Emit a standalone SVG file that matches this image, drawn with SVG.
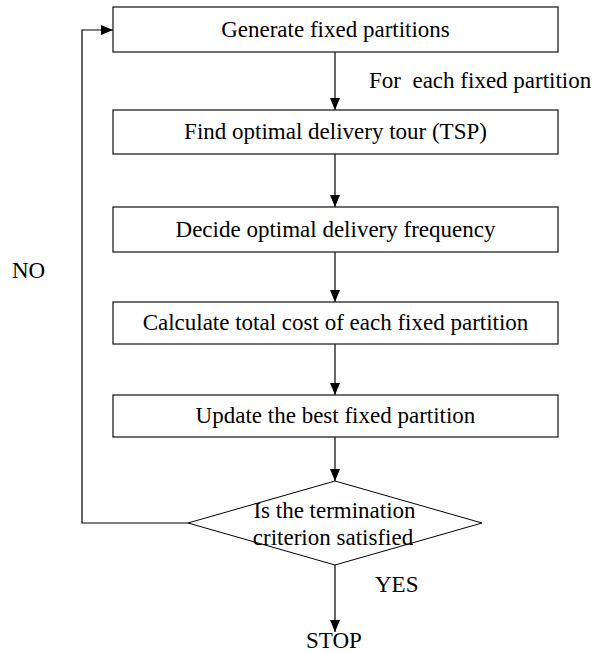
<svg xmlns="http://www.w3.org/2000/svg" width="598" height="653" viewBox="0 0 598 653">
<defs>
<marker id="arr" markerWidth="12" markerHeight="10" refX="12" refY="5" orient="auto" markerUnits="userSpaceOnUse">
<path d="M0,0 L12,5 L0,10 Z" fill="#000"/>
</marker>
<style>
.box{fill:#fff;stroke:#222;stroke-width:1.3}
.t{font-family:"Liberation Serif","Times New Roman",serif;font-size:23px;fill:#000}
.c{text-anchor:middle}
.ln{fill:none;stroke:#000;stroke-width:1.2}
</style>
</defs>
<rect width="598" height="653" fill="#fff"/>
<g id="connectors">
<line class="ln" x1="335" y1="52" x2="335" y2="110" marker-end="url(#arr)"/>
<line class="ln" x1="335" y1="154" x2="335" y2="207" marker-end="url(#arr)"/>
<line class="ln" x1="335" y1="252" x2="335" y2="302" marker-end="url(#arr)"/>
<line class="ln" x1="335" y1="344" x2="335" y2="395" marker-end="url(#arr)"/>
<line class="ln" x1="335" y1="437" x2="335" y2="481" marker-end="url(#arr)"/>
<line class="ln" x1="335" y1="565" x2="335" y2="632" marker-end="url(#arr)"/>
<polyline class="ln" points="188,523 82,523 82,30 113,30" marker-end="url(#arr)"/>
<text class="t" x="369" y="88" xml:space="preserve">For  each fixed partition</text>
<text class="t" x="12" y="278">NO</text>
<text class="t" x="375" y="592">YES</text>
</g>
<g id="n1"><rect class="box" x="113" y="7" width="445" height="45"/><text class="t c" x="335.5" y="37">Generate fixed partitions</text></g>
<g id="n2"><rect class="box" x="113" y="110" width="445" height="44"/><text class="t c" x="335.5" y="139">Find optimal delivery tour (TSP)</text></g>
<g id="n3"><rect class="box" x="113" y="207" width="445" height="45"/><text class="t c" x="335.5" y="237">Decide optimal delivery frequency</text></g>
<g id="n4"><rect class="box" x="113" y="302" width="445" height="42"/><text class="t c" x="335.5" y="330">Calculate total cost of each fixed partition</text></g>
<g id="n5"><rect class="box" x="113" y="395" width="445" height="42"/><text class="t c" x="335.5" y="423">Update the best fixed partition</text></g>
<g id="n6"><polygon class="box" points="335,481 482,523 335,565 188,523" style="stroke:#000;stroke-width:1"/><text class="t c" x="334.5" y="518">Is the termination</text><text class="t c" x="333" y="545">criterion satisfied</text></g>
<g id="n7"><text class="t c" x="334" y="648">STOP</text></g>
</svg>
